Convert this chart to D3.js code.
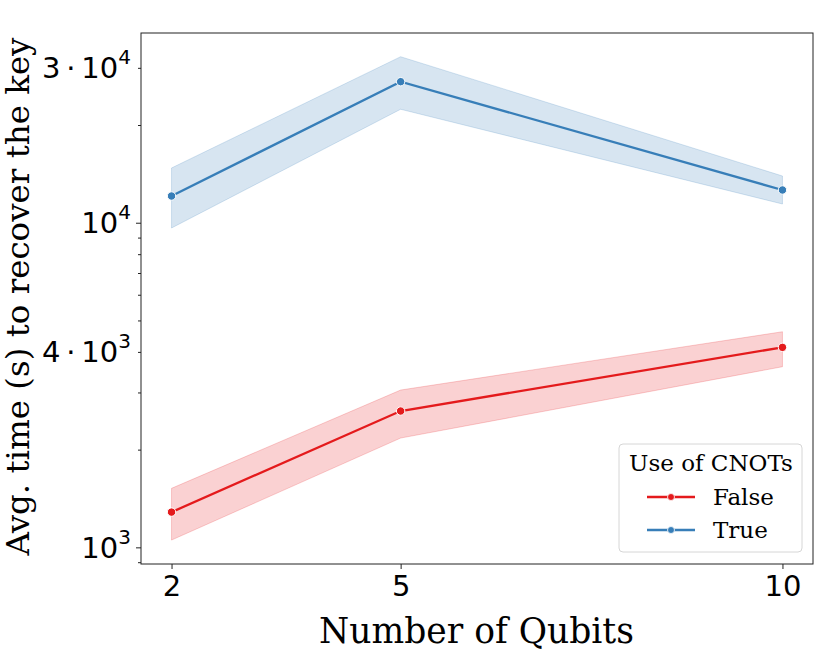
<!DOCTYPE html>
<html><head><meta charset="utf-8">
<script src="https://cdn.jsdelivr.net/npm/d3@7"></script>
<style>body{margin:0;background:#fff;} svg{display:block;}</style>
</head><body>
<svg id="chart" width="830" height="664"></svg>
<script>
const qubits = [2, 5, 10];
const seriesNames = ["False", "True"];
const colors = ["#e41a1c", "#377eb8"];
const meanFalse = [1284, 2630, 4131];
const lowFalse  = [1053, 2171, 3601];
const highFalse = [1520, 3052, 4615];
const meanTrue  = [12085, 27195, 12613];
const lowTrue   = [9632, 22360, 11420];
const highTrue  = [14745, 32460, 13930];
const xTicks = [2, 5, 10];
const yMajorTicks = [1000, 10000];
const yLabeledMinor = [[4000, "4", "3"], [30000, "3", "4"]];
const yMinorTicks = [900, 2000, 3000, 4000, 5000, 6000, 7000, 8000, 9000, 20000, 30000];
const legendTitle = "Use of CNOTs";
const xLabel = "Number of Qubits";
const yLabel = "Avg. time (s) to recover the key";

const series = [
  {name: seriesNames[0], color: colors[0], mean: meanFalse, lo: lowFalse, hi: highFalse},
  {name: seriesNames[1], color: colors[1], mean: meanTrue, lo: lowTrue, hi: highTrue}
];

const svg = d3.select("#chart");
const L = 141, R = 813, T = 33, B = 564;
const x = d3.scaleLinear().domain([1.6, 10.4]).range([L, R]);
const y = d3.scaleLog().domain([888.6, 38410]).range([B, T]);

const sans = "DejaVu Sans, sans-serif";
const serif = "DejaVu Serif, serif";

// bands and lines
const area = d3.area().x((d,i)=>x(qubits[i])).y0(d=>y(d[0])).y1(d=>y(d[1]));
const line = d3.line().x((d,i)=>x(qubits[i])).y(d=>y(d));
series.forEach(s => {
  const band = s.lo.map((v,i)=>[v, s.hi[i]]);
  svg.append("path").attr("d", area(band))
    .attr("fill", s.color).attr("fill-opacity", 0.2)
    .attr("stroke", s.color).attr("stroke-opacity", 0.2).attr("stroke-width", 1);
});
series.forEach(s => {
  svg.append("path").attr("d", line(s.mean)).attr("fill", "none")
    .attr("stroke", s.color).attr("stroke-width", 2.3);
  svg.selectAll(null).data(s.mean).enter().append("circle")
    .attr("cx", (d,i)=>x(qubits[i])).attr("cy", d=>y(d)).attr("r", 4.2)
    .attr("fill", s.color).attr("stroke", "#fff").attr("stroke-width", 1);
});

// spines
svg.append("rect").attr("x", L).attr("y", T).attr("width", R-L).attr("height", B-T)
  .attr("fill", "none").attr("stroke", "#222").attr("stroke-width", 1);

// x axis
const xAxis = d3.axisBottom(x).tickValues(xTicks).tickSize(5).tickPadding(5).tickFormat(d3.format("d"));
const gx = svg.append("g").attr("transform", `translate(0,${B})`).call(xAxis);
gx.select(".domain").remove();
gx.selectAll(".tick line").attr("stroke", "#222");
gx.selectAll(".tick text").attr("font-family", sans).attr("font-size", 29).attr("fill", "#000").attr("dy", "0.76em");

// y axis minor ticks
const gyMinor = svg.append("g").attr("transform", `translate(${L},0)`)
  .call(d3.axisLeft(y).tickValues(yMinorTicks).tickSize(3).tickFormat(""));
gyMinor.select(".domain").remove();
gyMinor.selectAll(".tick line").attr("stroke", "#222");

// y axis major ticks
const gy = svg.append("g").attr("transform", `translate(${L},0)`)
  .call(d3.axisLeft(y).tickValues(yMajorTicks).tickSize(5).tickFormat(""));
gy.select(".domain").remove();
gy.selectAll(".tick line").attr("stroke", "#222");

function mathLabel(v, coef, exp) {
  const t = svg.append("text").attr("x", L - 10).attr("y", y(v)).attr("dy", 10.5)
    .attr("text-anchor", "end").attr("font-family", sans).attr("font-size", 29).attr("fill", "#000");
  if (coef) t.append("tspan").text(coef + "\u2009\u00b7\u2009");
  t.append("tspan").text("10");
  t.append("tspan").attr("font-size", 20).attr("dy", -14).text(exp);
}
mathLabel(1000, null, "3");
mathLabel(10000, null, "4");
yLabeledMinor.forEach(d => mathLabel(d[0], d[1], d[2]));

// axis labels
svg.append("text").attr("x", (L+R)/2 - 0.5).attr("y", 643).attr("text-anchor", "middle")
  .attr("font-family", serif).attr("font-size", 34.5).attr("fill", "#000").text(xLabel);
svg.append("text").attr("transform", `translate(29,${(T+B)/2 - 2}) rotate(-90)`).attr("text-anchor", "middle")
  .attr("font-family", serif).attr("font-size", 32.5).attr("fill", "#000").text(yLabel);

// legend
const lg = svg.append("g");
lg.append("rect").attr("x", 619).attr("y", 444).attr("width", 183).attr("height", 108).attr("rx", 4)
  .attr("fill", "#fff").attr("fill-opacity", 0.8).attr("stroke", "#d6d6d6").attr("stroke-width", 1);
lg.append("text").attr("x", 711).attr("y", 471).attr("text-anchor", "middle")
  .attr("font-family", serif).attr("font-size", 23).attr("fill", "#000").text(legendTitle);
series.forEach((s, i) => {
  const yy = 497 + i * 33;
  lg.append("line").attr("x1", 647).attr("x2", 695).attr("y1", yy).attr("y2", yy)
    .attr("stroke", s.color).attr("stroke-width", 2.3);
  lg.append("circle").attr("cx", 671).attr("cy", yy).attr("r", 3.5).attr("fill", s.color)
    .attr("stroke", "#fff").attr("stroke-width", 0.8);
  lg.append("text").attr("x", 713).attr("y", yy + 8).attr("font-family", serif).attr("font-size", 23)
    .attr("fill", "#000").text(s.name);
});
</script>
</body></html>
